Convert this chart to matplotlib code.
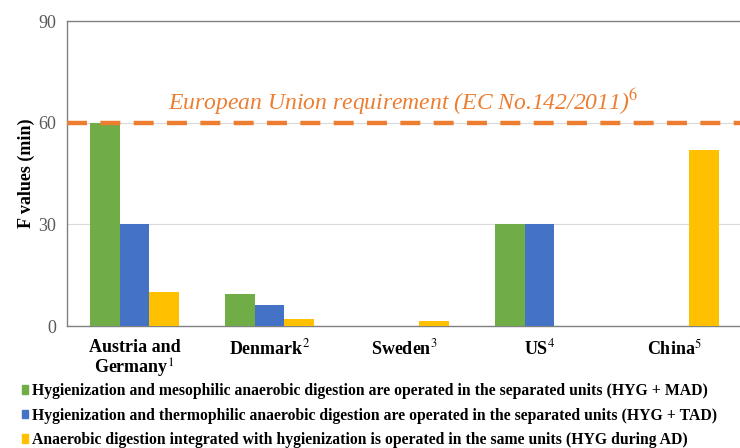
import numpy as np
import matplotlib.pyplot as plt
from matplotlib.patches import Patch

plt.rcParams['font.family'] = ['Liberation Serif', 'DejaVu Serif']
plt.rcParams['mathtext.fontset'] = 'stix'

countries = ['Austria and\nGermany$^{1}$', 'Denmark$^{2}$', 'Sweden$^{3}$', 'US$^{4}$', 'China$^{5}$']
hyg_mad = [60, 9.4, 0, 30, 0]
hyg_tad = [30, 6.2, 0, 30, 0]
hyg_ad = [10, 2, 1.5, 0, 52]
eu_req = 60

labels = ['Hygienization and mesophilic anaerobic digestion are operated in the separated units (HYG + MAD)',
          'Hygienization and thermophilic anaerobic digestion are operated in the separated units (HYG + TAD)',
          'Anaerobic digestion integrated with hygienization is operated in the same units (HYG during AD)']
colors = ['#70AD47', '#4472C4', '#FFC000']

fig = plt.figure(figsize=(7.4, 4.48), dpi=100)
ax = fig.add_axes([67/740, 122/448, 675/740, 305/448])

x = np.arange(len(countries))
w = 0.222
ax.bar(x - w, hyg_mad, w, color=colors[0], zorder=3)
ax.bar(x, hyg_tad, w, color=colors[1], zorder=3)
ax.bar(x + w, hyg_ad, w, color=colors[2], zorder=3)

ax.axhline(eu_req, color='#ED7D31', lw=3.2, dashes=(4.5, 3), zorder=4)
ax.text(0.248, 63.8, 'European Union requirement (EC No.142/2011)$^{6}$', color='#ED7D31',
        fontsize=17, fontstyle='italic', ha='left', va='baseline')

ax.set_xlim(-0.5, 4.5)
ax.set_ylim(0, 90)
ax.set_yticks([0, 30, 60, 90])
ax.grid(axis='y', color='#d9d9d9', lw=0.8, zorder=0)
ax.tick_params(axis='y', length=0, labelsize=13, labelcolor='#595959', pad=8)
ax.tick_params(axis='x', length=0, labelsize=13, pad=9)
ax.set_xticks(x)
ax.set_xticklabels(countries, fontweight='bold', linespacing=1.1)
ax.set_ylabel('F values (min)', fontsize=13, fontweight='bold', labelpad=2)
for s in ax.spines.values():
    s.set_color('#808080')
    s.set_linewidth(1)

handles = [Patch(color=c) for c in colors]
fig.legend(handles, labels, loc='upper left', bbox_to_anchor=(0.03, 0.145), frameon=False,
           prop={'weight': 'bold', 'size': 11.3}, handlelength=0.4, handleheight=0.45,
           handletextpad=0.25, labelspacing=0.55, borderaxespad=0, borderpad=0)

fig.savefig('out.png', dpi=100)
